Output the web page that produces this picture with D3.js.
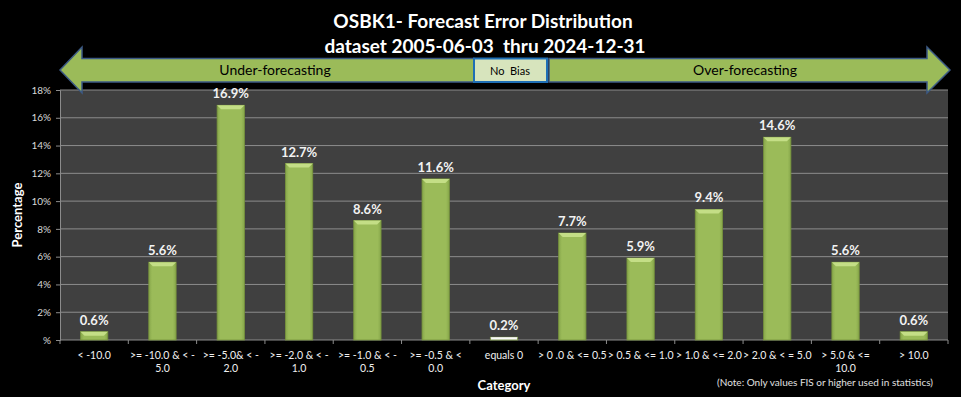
<!DOCTYPE html>
<html>
<head>
<meta charset="utf-8">
<script src="https://cdn.jsdelivr.net/npm/d3@7"></script>
<style>
  body { margin: 0; background: #000; }
  text { font-family: Lato, "Open Sans", sans-serif; }
</style>
</head>
<body>
<script>
var categories = ["< -10.0", ">= -10.0 & < -|5.0", ">= -5.0& < -|2.0", ">= -2.0 & < -|1.0",
    ">= -1.0 & < -|0.5", ">= -0.5 & <|0.0", "equals 0", "> 0 .0 & <= 0.5", "> 0.5 & <= 1.0",
    "> 1.0 & <= 2.0", "> 2.0 & < = 5.0", "> 5.0 & <=|10.0", "> 10.0"];
var values = [0.6, 5.6, 16.9, 12.7, 8.6, 11.6, 0.2, 7.7, 5.9, 9.4, 14.6, 5.6, 0.6];
var yTicks = [0, 2, 4, 6, 8, 10, 12, 14, 16, 18];

var width = 961, height = 397;
var pLeft = 60, pRight = 948, pTop = 90, pBottom = 340;

var svg = d3.select('body')
    .append('svg')
    .attr('width', width)
    .attr('height', height);

var defs = svg.append('defs');
var grad = defs.append('linearGradient').attr('id', 'barGrad');
grad.append('stop').attr('offset', '0%').attr('stop-color', '#86a64a');
grad.append('stop').attr('offset', '12%').attr('stop-color', '#9bbb59');
grad.append('stop').attr('offset', '88%').attr('stop-color', '#9bbb59');
grad.append('stop').attr('offset', '100%').attr('stop-color', '#86a64a');

// title
svg.append('text')
    .attr('x', 483).attr('y', 28)
    .attr('text-anchor', 'middle')
    .style('font-size', '19px').style('font-weight', 'bold').style('fill', '#fff')
    .text('OSBK1- Forecast Error Distribution');
svg.append('text')
    .attr('x', 485).attr('y', 53)
    .attr('text-anchor', 'middle')
    .style('font-size', '19px').style('font-weight', 'bold').style('fill', '#fff')
    .attr('xml:space', 'preserve')
    .text('dataset 2005-06-03  thru 2024-12-31');

// plot background
svg.append('rect')
    .attr('x', pLeft).attr('y', pTop)
    .attr('width', pRight - pLeft).attr('height', pBottom - pTop)
    .style('fill', '#404040');

var x = d3.scaleBand()
    .domain(categories)
    .range([pLeft, pRight])
    .paddingInner(0.6)
    .paddingOuter(0.3);

var y = d3.scaleLinear()
    .domain([0, 18])
    .range([pBottom, pTop]);

// grid
svg.append('g')
    .selectAll('line')
    .data(yTicks.slice(1))
    .enter().append('line')
    .attr('x1', pLeft).attr('x2', pRight)
    .attr('y1', function(d) { return y(d); })
    .attr('y2', function(d) { return y(d); })
    .style('stroke', '#8c8c8c').style('stroke-width', 1);

// y axis
var yAxis = svg.append('g')
    .attr('transform', 'translate(' + pLeft + ',0)')
    .call(d3.axisLeft(y).tickValues(yTicks).tickSize(4).tickPadding(5)
        .tickFormat(function(d) { return d === 0 ? '%' : d + '%'; }));
yAxis.selectAll('path, line').style('stroke', '#8c8c8c');
yAxis.selectAll('text').style('fill', '#d9d9d9').style('font-size', '10px')
    .style('font-family', 'Lato, sans-serif');

// x axis
var step = x.step();
var xAxis = svg.append('g');
xAxis.append('line')
    .attr('x1', pLeft).attr('x2', pRight)
    .attr('y1', pBottom).attr('y2', pBottom)
    .style('stroke', '#8c8c8c');
xAxis.selectAll('.tick')
    .data(d3.range(categories.length + 1))
    .enter().append('line')
    .attr('x1', function(i) { return pLeft + i * step; })
    .attr('x2', function(i) { return pLeft + i * step; })
    .attr('y1', pBottom).attr('y2', pBottom + 4)
    .style('stroke', '#8c8c8c');

var xl = xAxis.selectAll('.xl')
    .data(categories)
    .enter().append('text')
    .attr('text-anchor', 'middle')
    .attr('x', function(d) { return x(d) + x.bandwidth() / 2; })
    .attr('y', 359)
    .style('fill', '#f0f0f0').style('font-size', '10.5px');
xl.selectAll('tspan')
    .data(function(d) { return d.split('|'); })
    .enter().append('tspan')
    .attr('x', function() { return d3.select(this.parentNode).attr('x'); })
    .attr('dy', function(d, i) { return i === 0 ? 0 : 13; })
    .text(function(d) { return d; });

// bars
var bars = svg.append('g').selectAll('g')
    .data(values)
    .enter().append('g');

bars.append('rect')
    .attr('x', function(d, i) { return x(categories[i]); })
    .attr('y', function(d) { return y(d); })
    .attr('width', x.bandwidth())
    .attr('height', function(d) { return pBottom - y(d); })
    .style('fill', function(d, i) { return categories[i] === 'equals 0' ? '#f2f2f2' : 'url(#barGrad)'; })
    .style('stroke', '#77933c').style('stroke-width', 0.8);

bars.append('path')
    .attr('d', function(d, i) {
        var x0 = x(categories[i]), x1 = x0 + x.bandwidth(), y0 = y(d);
        var b = Math.min(4, (pBottom - y0) / 2);
        return 'M' + x0 + ',' + y0 + 'L' + x1 + ',' + y0 + 'L' + (x1 - b) + ',' + (y0 + b) +
            'L' + (x0 + b) + ',' + (y0 + b) + 'Z';
    })
    .style('fill', function(d, i) { return categories[i] === 'equals 0' ? '#ffffff' : '#c4de86'; });

bars.append('text')
    .attr('text-anchor', 'middle')
    .attr('x', function(d, i) { return x(categories[i]) + x.bandwidth() / 2; })
    .attr('y', function(d) { return y(d) - 7; })
    .style('fill', '#f2f2f2').style('font-size', '13px').style('font-weight', 'bold')
    .text(function(d) { return d.toFixed(1) + '%'; });

// axis titles
svg.append('text')
    .attr('transform', 'translate(22,' + (pTop + pBottom) / 2 + ') rotate(-90)')
    .attr('text-anchor', 'middle')
    .style('fill', '#fff').style('font-size', '13px').style('font-weight', 'bold')
    .text('Percentage');
svg.append('text')
    .attr('x', (pLeft + pRight) / 2).attr('y', 390)
    .attr('text-anchor', 'middle')
    .style('fill', '#fff').style('font-size', '13px').style('font-weight', 'bold')
    .text('Category');
svg.append('text')
    .attr('x', 825).attr('y', 386)
    .attr('text-anchor', 'middle')
    .style('fill', '#e0e0e0').style('font-size', '10px')
    .text('(Note: Only values FIS or higher used in statistics)');

// bias arrows
var arrowFill = '#9bbb59', arrowStroke = '#3c5a85';
svg.append('path')
    .attr('d', 'M60,70 L82,47 L82,58.5 L474,58.5 L474,82 L82,82 L82,93 Z')
    .style('fill', arrowFill).style('stroke', arrowStroke).style('stroke-width', 1.5);
svg.append('path')
    .attr('d', 'M950,70 L927,47 L927,58.5 L549,58.5 L549,82 L927,82 L927,93 Z')
    .style('fill', arrowFill).style('stroke', arrowStroke).style('stroke-width', 1.5);
svg.append('rect')
    .attr('x', 474).attr('y', 58.5).attr('width', 73).attr('height', 23.5)
    .style('fill', '#d7e4bd').style('stroke', '#1f6fb5').style('stroke-width', 2);

svg.append('text').attr('x', 275).attr('y', 75).attr('text-anchor', 'middle')
    .style('fill', '#000').style('font-size', '14px').text('Under-forecasting');
svg.append('text').attr('x', 510).attr('y', 75).attr('text-anchor', 'middle')
    .attr('xml:space', 'preserve')
    .style('fill', '#000').style('font-size', '11px').text('No  Bias');
svg.append('text').attr('x', 745).attr('y', 75).attr('text-anchor', 'middle')
    .style('fill', '#000').style('font-size', '14px').text('Over-forecasting');
</script>
</body>
</html>
